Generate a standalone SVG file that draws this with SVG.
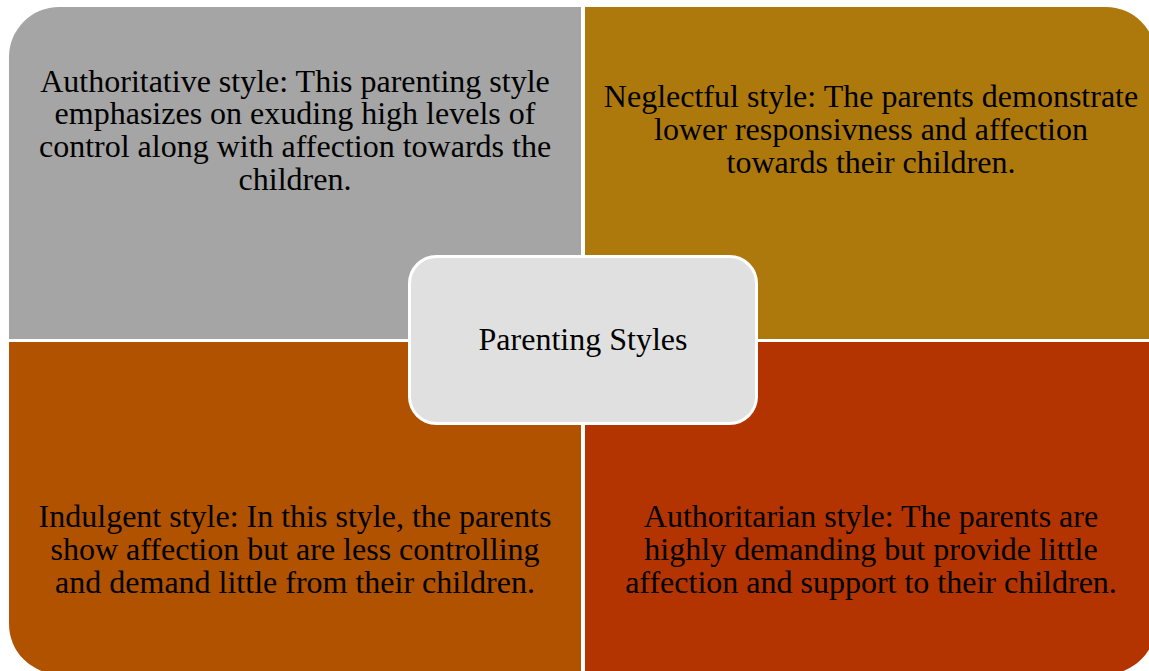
<svg xmlns="http://www.w3.org/2000/svg" width="1149" height="671" viewBox="0 0 1149 671">
<style>
text{font-family:"Liberation Serif","Times New Roman",serif;font-size:32px;fill:#000;text-anchor:middle}
.q{stroke:none}
</style>
<rect width="1149" height="671" fill="#ffffff"/>
<g id="quad-authoritative">
<path class="q" fill="#a5a5a5" d="M9,339 V57 A50,50 0 0 1 59,7 H581 V339 Z"/>
<text x="295" y="91.7">Authoritative style: This parenting style</text>
<text x="295" y="124.3">emphasizes on exuding high levels of</text>
<text x="295" y="156.9">control along with affection towards the</text>
<text x="295" y="189.5">children.</text>
</g>
<g id="quad-neglectful">
<path class="q" fill="#ad790c" d="M585,7 H1106 A50,50 0 0 1 1156,57 V339 H585 Z"/>
<text x="871" y="107.3">Neglectful style: The parents demonstrate</text>
<text x="871" y="140.2">lower responsivness and affection</text>
<text x="871" y="173.1">towards their children.</text>
</g>
<g id="quad-indulgent">
<path class="q" fill="#b05200" d="M9,342 H581 V674 H59 A50,50 0 0 1 9,624 Z"/>
<text x="295" y="526.7">Indulgent style: In this style, the parents</text>
<text x="295" y="559.6">show affection but are less controlling</text>
<text x="295" y="592.5">and demand little from their children.</text>
</g>
<g id="quad-authoritarian">
<path class="q" fill="#b33400" d="M585,342 H1156 V624 A50,50 0 0 1 1106,674 H585 Z"/>
<text x="871" y="526.7">Authoritarian style: The parents are</text>
<text x="871" y="559.6">highly demanding but provide little</text>
<text x="871" y="592.5">affection and support to their children.</text>
</g>
<g id="center">
<rect x="409.5" y="256.5" width="347" height="167" rx="27" ry="27" fill="#e0e0e0" stroke="#ffffff" stroke-width="3"/>
<text x="583" y="350">Parenting Styles</text>
</g>
<g id="connectors"/>
</svg>
